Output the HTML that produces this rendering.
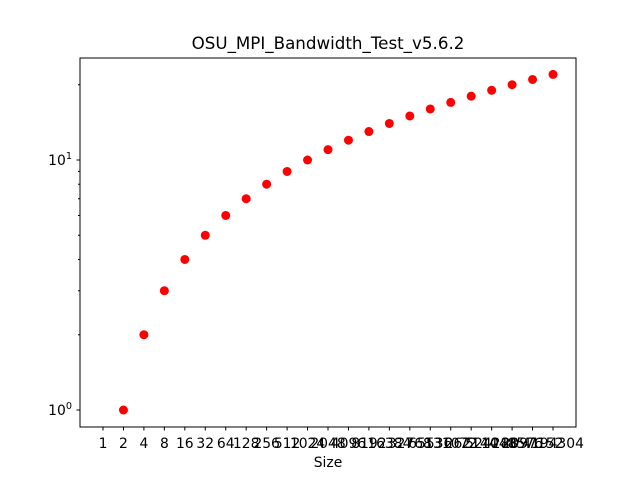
<!DOCTYPE html>
<html><head><meta charset="utf-8"><style>
body{margin:0;background:#fff}
svg{display:block;font-family:"DejaVu Sans","Liberation Sans",sans-serif}
</style></head><body>
<svg id="chart" width="640" height="480" viewBox="0 0 640 480">
<rect width="640" height="480" fill="#fff"/>
<text x="328" y="49" text-anchor="middle" font-size="16.7">OSU_MPI_Bandwidth_Test_v5.6.2</text>
<rect x="80" y="58" width="496" height="369" fill="none" stroke="#000" stroke-width="1"/>
<g id="xt"></g><g id="yt"></g><g id="pts"></g>
<text x="328" y="467" text-anchor="middle" font-size="13.9">Size</text>
</svg>
<script>
const categories=["1","2","4","8","16","32","64","128","256","512","1024","2048","4096","8192","16384","32768","65536","131072","262144","524288","1048576","2097152","4194304"];
const values=[0,1,2,3,4,5,6,7,8,9,10,11,12,13,14,15,16,17,18,19,20,21,22];
const yMajor=[1,10];
const yMinor=[2,3,4,5,6,7,8,9,20];
const NS="http://www.w3.org/2000/svg";
function xS(i){return 103+i*(553-103)/(categories.length-1);}
function yS(v){return 410-250*Math.log10(v);}
function mk(tag,attrs,parent){const e=document.createElementNS(NS,tag);for(const k in attrs)e.setAttribute(k,attrs[k]);parent.appendChild(e);return e;}
const xt=document.getElementById('xt'),yt=document.getElementById('yt'),pts=document.getElementById('pts');
categories.forEach((c,i)=>{
  const t=mk('line',{x1:xS(i),x2:xS(i),y1:427,y2:430.5,stroke:'#000'},xt);
  
  
  const l=mk('text',{x:xS(i),y:448,'text-anchor':'middle','font-size':13.9},xt);
  l.textContent=c;
  
  
});
yMajor.forEach(v=>{
  const t=mk('line',{x1:76.5,x2:80,y1:yS(v),y2:yS(v),stroke:'#000'},yt);
  
  
  const l=mk('text',{x:72,y:yS(v)+5,'text-anchor':'end','font-size':13.9},yt);
  
  
  const e=Math.round(Math.log10(v));
  l.textContent='10';
  const s=mk('tspan',{dy:-6,'font-size':9.7},l);s.textContent=String(e);
});
yMinor.forEach(v=>{
  const t=mk('line',{x1:78,x2:80,y1:yS(v),y2:yS(v),stroke:'#000'},yt);
  
  
});
values.forEach((v,i)=>{
  if(v<=0)return;
  const p=mk('circle',{cx:xS(i),cy:yS(v),r:4.5,fill:'#ff0000'},pts);
  
  
});
</script>
</body></html>
